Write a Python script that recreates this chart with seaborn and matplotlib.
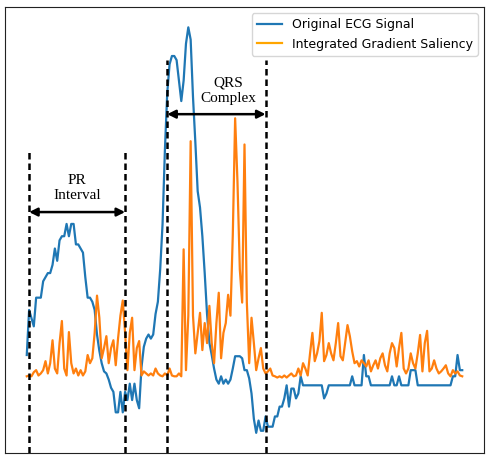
import matplotlib
matplotlib.use("Agg")
import matplotlib.pyplot as plt
import seaborn as sns
import pandas as pd
import numpy as np

# one heartbeat, 187 samples (normalised amplitude)
ecg = [0.20, 0.31, 0.29, 0.27, 0.34, 0.34, 0.34, 0.38, 0.39, 0.40,
       0.40, 0.42, 0.46, 0.43, 0.48, 0.49, 0.49, 0.52, 0.49, 0.52,
       0.52, 0.47, 0.47, 0.46, 0.45, 0.39, 0.34, 0.34, 0.33, 0.31,
       0.25, 0.21, 0.18, 0.16, 0.155, 0.14, 0.12, 0.11, 0.06, 0.06,
       0.11, 0.06, 0.11, 0.09, 0.13, 0.09, 0.13, 0.09, 0.07, 0.17,
       0.22, 0.24, 0.25, 0.24, 0.25, 0.30, 0.33, 0.41, 0.52, 0.70,
       0.84, 0.91, 0.93, 0.93, 0.92, 0.87, 0.82, 0.87, 0.96, 1.00,
       0.97, 0.83, 0.72, 0.60, 0.56, 0.49, 0.40, 0.30, 0.23, 0.20,
       0.167, 0.14, 0.13, 0.148, 0.13, 0.14, 0.13, 0.14, 0.167, 0.197,
       0.197, 0.197, 0.192, 0.163, 0.163, 0.143, 0.106, 0.044, 0.01, 0.04,
       0.015, 0.015, 0.05, 0.025, 0.025, 0.025, 0.05, 0.05, 0.074, 0.074,
       0.094, 0.126, 0.074, 0.118, 0.118, 0.094, 0.106, 0.148, 0.126, 0.126,
       0.126, 0.126, 0.126, 0.126, 0.126, 0.126, 0.126, 0.094, 0.106, 0.126,
       0.126, 0.126, 0.126, 0.126, 0.126, 0.126, 0.126, 0.126, 0.126, 0.148,
       0.126, 0.126, 0.126, 0.126, 0.20, 0.148, 0.148, 0.126, 0.126, 0.126,
       0.126, 0.126, 0.126, 0.126, 0.126, 0.126, 0.148, 0.126, 0.126, 0.148,
       0.126, 0.126, 0.126, 0.126, 0.163, 0.163, 0.163, 0.126, 0.126, 0.126,
       0.126, 0.126, 0.126, 0.126, 0.126, 0.126, 0.126, 0.126, 0.126, 0.126,
       0.126, 0.126, 0.148, 0.148, 0.20, 0.163, 0.163]

saliency = [0.148, 0.150, 0.148, 0.158, 0.163, 0.150, 0.155, 0.163, 0.185, 0.155,
            0.180, 0.236, 0.167, 0.155, 0.229, 0.283, 0.167, 0.150, 0.256, 0.180,
            0.155, 0.167, 0.150, 0.163, 0.150, 0.160, 0.200, 0.180, 0.192, 0.254,
            0.345, 0.291, 0.192, 0.217, 0.246, 0.180, 0.217, 0.236, 0.175, 0.241,
            0.296, 0.333, 0.254, 0.163, 0.254, 0.291, 0.163, 0.217, 0.234, 0.150,
            0.160, 0.155, 0.150, 0.155, 0.150, 0.167, 0.155, 0.150, 0.148, 0.155,
            0.150, 0.167, 0.150, 0.148, 0.148, 0.155, 0.148, 0.458, 0.163, 0.296,
            0.722, 0.296, 0.204, 0.254, 0.303, 0.212, 0.278, 0.229, 0.320, 0.229,
            0.180, 0.278, 0.352, 0.192, 0.254, 0.278, 0.347, 0.296, 0.493, 0.778,
            0.623, 0.409, 0.328, 0.714, 0.328, 0.180, 0.291, 0.229, 0.163, 0.192,
            0.217, 0.167, 0.155, 0.160, 0.167, 0.150, 0.148, 0.145, 0.148, 0.145,
            0.150, 0.145, 0.150, 0.155, 0.148, 0.150, 0.167, 0.150, 0.180, 0.167,
            0.150, 0.204, 0.254, 0.185, 0.204, 0.234, 0.303, 0.185, 0.200, 0.229,
            0.204, 0.187, 0.229, 0.278, 0.197, 0.187, 0.229, 0.273, 0.246, 0.209,
            0.180, 0.185, 0.172, 0.187, 0.180, 0.172, 0.187, 0.160, 0.175, 0.187,
            0.167, 0.192, 0.204, 0.175, 0.160, 0.204, 0.229, 0.217, 0.172, 0.217,
            0.254, 0.167, 0.155, 0.167, 0.204, 0.180, 0.167, 0.204, 0.249, 0.160,
            0.229, 0.259, 0.160, 0.167, 0.187, 0.167, 0.155, 0.160, 0.167, 0.175,
            0.155, 0.148, 0.163, 0.155, 0.160, 0.150, 0.148]

pr_bounds = [1, 42]
qrs_bounds = [60, 102]

df = pd.DataFrame({"t": np.arange(len(ecg)), "ecg": ecg, "sal": saliency})

fig = plt.figure(figsize=(5.0, 4.71), dpi=100)
ax = fig.add_axes([0.01, 0.038, 0.958, 0.947])

sns.lineplot(data=df, x="t", y="ecg", color="#1f77b4", lw=1.6, ax=ax,
             label="Original ECG Signal")
sns.lineplot(data=df, x="t", y="sal", color="#ff7f0e", lw=1.6, ax=ax,
             label="Integrated Gradient Saliency")

for b in pr_bounds:
    ax.axvline(b, ymin=0, ymax=0.675, color="black", ls="--", lw=1.8, dashes=(2.6, 1.6))
for b in qrs_bounds:
    ax.axvline(b, ymin=0, ymax=0.881, color="black", ls="--", lw=1.8, dashes=(2.6, 1.6))

arrow = dict(arrowstyle="<|-|>", color="black", lw=1.8, mutation_scale=12,
             shrinkA=0, shrinkB=0)
ax.annotate("", xy=(pr_bounds[0], 0.549), xytext=(pr_bounds[1], 0.549), arrowprops=arrow)
ax.annotate("", xy=(qrs_bounds[0], 0.788), xytext=(qrs_bounds[1], 0.788), arrowprops=arrow)

ax.text(np.mean(pr_bounds), 0.608, "PR\nInterval", ha="center", va="center",
        family="Liberation Serif", fontsize=11, linespacing=1.2)
ax.text(np.mean(qrs_bounds) + 5, 0.845, "QRS\nComplex", ha="center", va="center",
        family="Liberation Serif", fontsize=11, linespacing=1.2)

ax.set_xticks([])
ax.set_yticks([])
ax.set_xlabel("")
ax.set_ylabel("")
for s in ax.spines.values():
    s.set_color("#222222")

leg = ax.legend(loc="upper right", fontsize=9)
leg.legend_handles[1].set_color("orange")

fig.savefig("out.png", dpi=100)
